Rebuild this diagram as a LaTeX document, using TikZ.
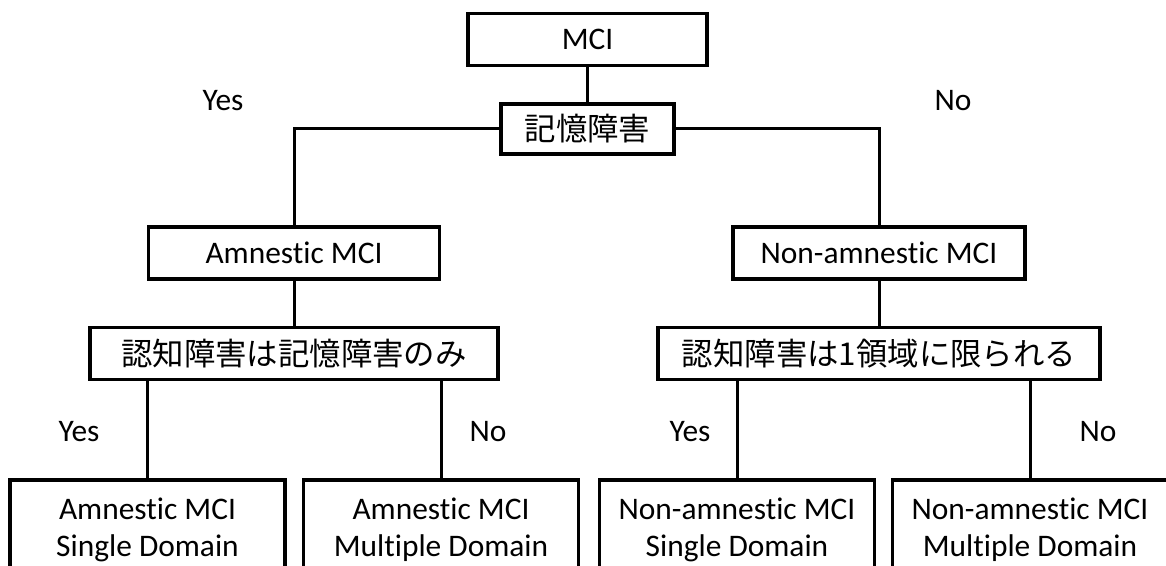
\documentclass[tikz,border=0pt]{standalone}
\usepackage{fontspec}
\setmainfont{Carlito}[Ligatures=NoCommon]
\newfontfamily\jpfont{Noto Sans CJK JP}

\begin{document}
\begin{tikzpicture}[x=0.5pt,y=-0.5pt,
font=\fontsize{15.7}{18.7}\selectfont,
block/.style={rectangle,draw,line width=1.8pt,minimum height=26pt,inner sep=0pt},
leaf/.style={block,minimum width=137.5pt,minimum height=50pt,align=center},
line/.style={draw,line width=1.5pt}]

\useasboundingbox (0,0) rectangle (1166,566);

\node [block, minimum width=119.5pt] (mci) at (587.5,39.5) {MCI};
\node [block, minimum width=86.5pt, minimum height=25pt] (mem) at (587.5,129) {\jpfont 記憶障害};
\node [block, minimum width=145.5pt] (amn) at (294,253) {Amnestic MCI};
\node [block, minimum width=146pt] (nonamn) at (879,253) {Non-amnestic MCI};
\node [block, minimum width=204pt] (chka) at (294,353.5) {\jpfont 認知障害は記憶障害のみ};
\node [block, minimum width=221pt] (chkb) at (879,353.5) {\jpfont 認知障害は1領域に限られる};

\node [leaf] (aa) at (147.5,530) {Amnestic MCI\\Single Domain};
\node [leaf] (ab) at (441,530) {Amnestic MCI\\Multiple Domain};
\node [leaf] (ba) at (737,530) {Non-amnestic MCI\\Single Domain};
\node [leaf] (bb) at (1030,530) {Non-amnestic MCI\\Multiple Domain};

\path [line] (mci) -- (mem);
\path [line] (mem.west) -| (amn.north);
\path [line] (mem.east) -| (nonamn.north);
\path [line] (amn) -- (chka);
\path [line] (nonamn) -- (chkb);

\path [line] (aa.north) -- (aa.north |- chka.south);
\path [line] (ab.north) -- (ab.north |- chka.south);
\path [line] (ba.north) -- (ba.north |- chkb.south);
\path [line] (bb.north) -- (bb.north |- chkb.south);

\node (yesa) at (223,101) {Yes};
\node (noa) at (953,101) {No};
\node (yesb) at (79,432) {Yes};
\node (nob) at (488,432) {No};
\node (yesc) at (690,432) {Yes};
\node (noc) at (1098,432) {No};
\end{tikzpicture}
\end{document}
